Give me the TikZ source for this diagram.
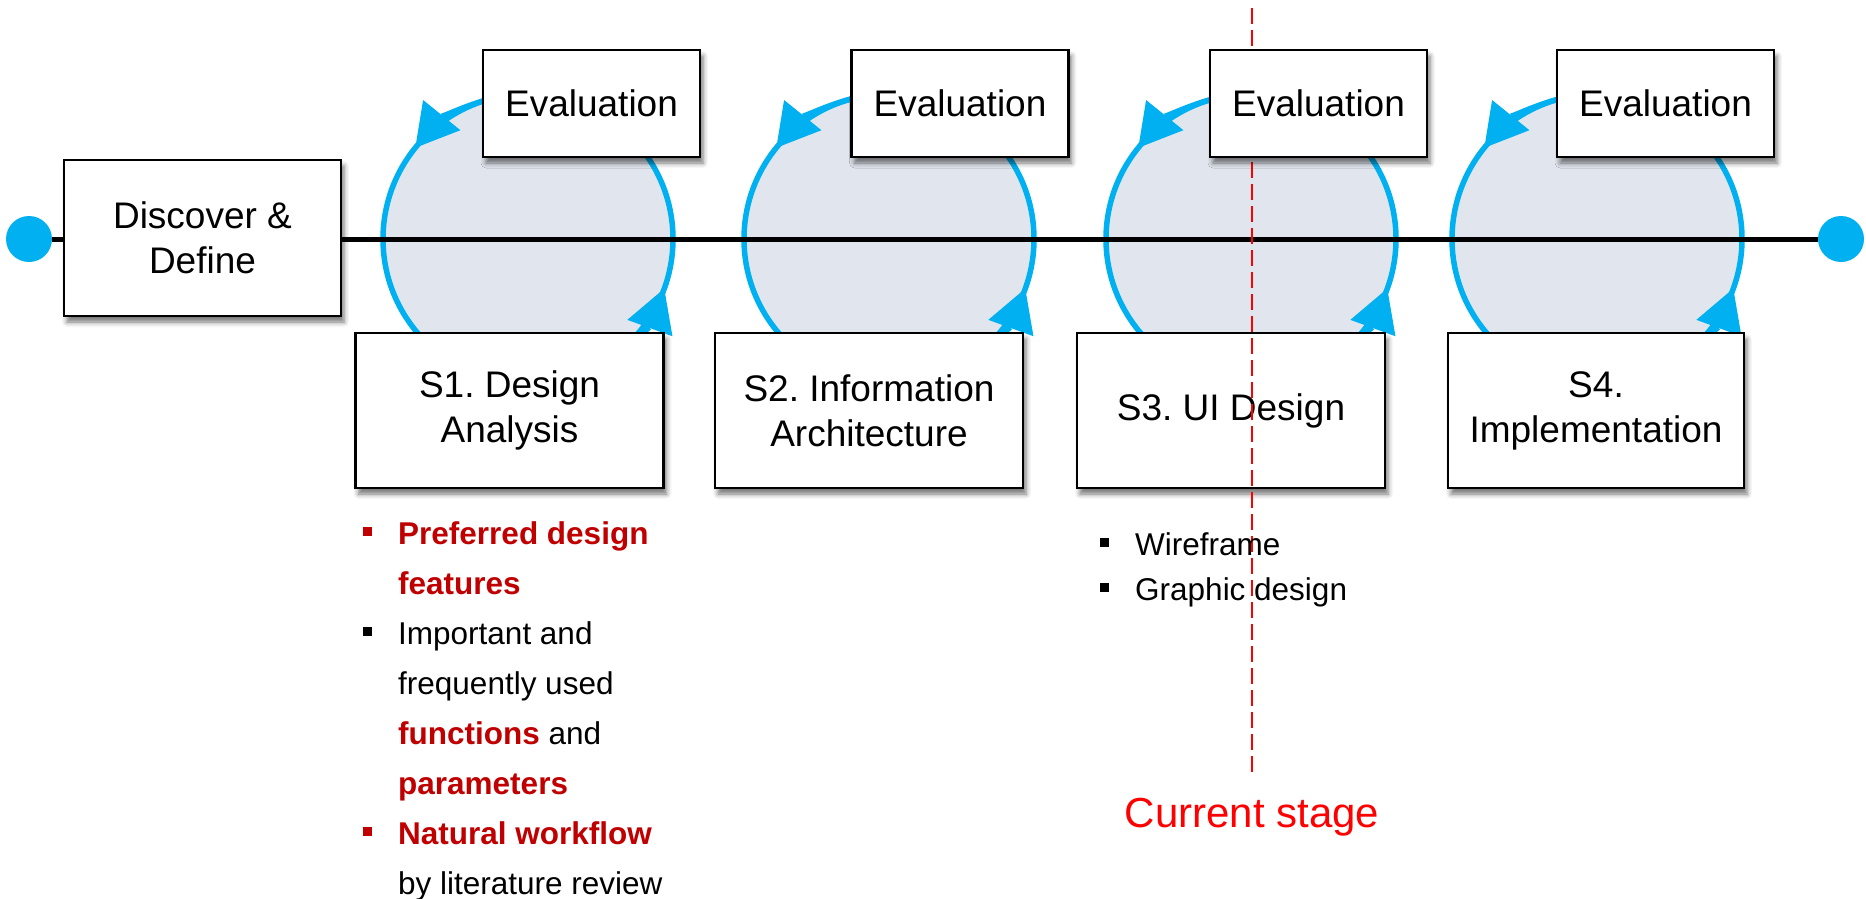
\documentclass[tikz,border=0pt]{standalone}
\usepackage{fontspec}
\setmainfont{Liberation Sans}
\usetikzlibrary{arrows.meta,calc,shadows.blur}
\definecolor{cyanb}{HTML}{00B0F0}
\definecolor{loopfill}{HTML}{E1E6EE}
\definecolor{dred}{HTML}{C00000}
\definecolor{markred}{HTML}{FF0000}
\frenchspacing
% square list marker hanging left of the text
\newcommand{\sqbullet}[1]{\leavevmode\llap{\textcolor{#1}{\rule[8pt]{9pt}{9pt}}\hspace{26pt}}}
\newcommand{\hl}[1]{\textcolor{dred}{\bfseries #1}}

\begin{document}
\begin{tikzpicture}[x=1pt,y=1pt,
  box/.style={draw=black, line width=2.5pt, fill=white, inner sep=0pt,
    align=center, font=\fontsize{37}{45}\selectfont,
    blur shadow={shadow xshift=3pt, shadow yshift=-6pt, shadow blur radius=5pt, shadow opacity=55}},
  stagebox/.style={box, minimum width=308pt, minimum height=155pt},
  evalbox/.style={box, minimum width=217pt, minimum height=107pt},
  loop/.style={circle, draw=cyanb, line width=5.5pt, fill=loopfill, inner sep=0pt, minimum size=290pt},
  looparrow/.style={draw=cyanb, line width=5.5pt, -{Triangle[length=42pt,width=48pt,line width=0pt]}},
  enddot/.style={circle, fill=cyanb, inner sep=0pt, minimum size=46pt},
  listtext/.style={anchor=base west, inner sep=0pt}
]
\useasboundingbox (0,0) rectangle (1866,-899);

% end points of the time line
\node[enddot] (ldot) at (29,-239) {};
\node[enddot] (rdot) at (1841,-239) {};

% iteration loops with their arrows
\foreach \n/\cx in {1/528, 2/889, 3/1251, 4/1597} {
  \node[loop] (c\n) at (\cx,-239) {};
  \draw[looparrow] ($(c\n.center)+(100:145)$) arc[start angle=100, end angle=141, radius=145pt];
  \draw[looparrow] ($(c\n.center)+(-62:145)$) arc[start angle=-62, end angle=-20, radius=145pt];
}

% main time line
\draw[line width=5pt] (ldot) -- (rdot);

% phases
\node[box, minimum width=277pt, minimum height=156pt] (dd) at (202.5,-238) {Discover \&\\Define};
\node[stagebox] (s1) at (509.5,-410.5) {S1. Design\\Analysis};
\node[stagebox] (s2) at (869,-410.5) {S2. Information\\Architecture};
\node[stagebox] (s3) at (1231,-410.5) {S3. UI Design};
\node[stagebox, minimum width=296pt] (s4) at (1596,-410.5) {S4.\\Implementation};

% current stage marker
\coordinate (mtop) at (1252,-8);
\coordinate (mbot) at (1252,-772);
\draw[markred, line width=2pt, dash pattern=on 16pt off 6pt] (mtop) -- (mbot);
\node[anchor=base, inner sep=0pt, text=markred, font=\fontsize{42}{50}\selectfont] (cur) at (1252,-827) {Current stage};

% evaluation steps
\node[evalbox] (e1) at (591.5,-103.5) {Evaluation};
\node[evalbox] (e2) at (960,-103.5) {Evaluation};
\node[evalbox] (e3) at (1318.5,-103.5) {Evaluation};
\node[evalbox] (e4) at (1665.5,-103.5) {Evaluation};

% outcomes of S1 and S3
\node[listtext] (l1) at (398,-544) {\parbox[t]{420pt}{\fontsize{31.5}{50}\selectfont
  \sqbullet{dred}\hl{Preferred design}\\
  \hl{features}\\
  \sqbullet{black}Important and\\
  frequently used\\
  \hl{functions} and\\
  \hl{parameters}\\
  \sqbullet{dred}\hl{Natural workflow}\\
  by literature review}};
\node[listtext] (l3) at (1135,-555) {\parbox[t]{420pt}{\fontsize{31.5}{45}\selectfont
  \sqbullet{black}Wireframe\\
  \sqbullet{black}Graphic design}};
\end{tikzpicture}
\end{document}
